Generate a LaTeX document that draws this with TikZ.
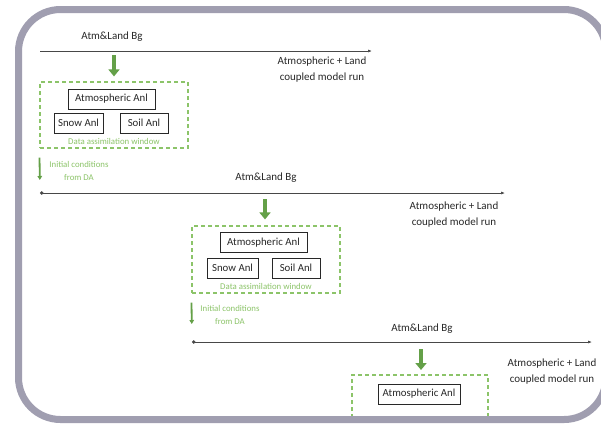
\documentclass[tikz,border=0pt]{standalone}
\usepackage{fontspec}
\setmainfont{Carlito}
\usetikzlibrary{arrows.meta}
\definecolor{framec}{RGB}{160,158,176}
\definecolor{dgreen}{RGB}{100,160,72}
\definecolor{lgreen}{RGB}{140,196,105}
\definecolor{txt}{RGB}{40,40,40}
\begin{document}
\begin{tikzpicture}[x=1pt,y=-1pt,
  anl/.style={draw=txt, line width=0.8pt, fill=white, minimum height=20pt, inner sep=0pt, font=\fontsize{10.8}{12}\selectfont, text=txt},
  lbl/.style={font=\fontsize{11}{16}\selectfont, text=txt, align=center, inner sep=0pt},
  small/.style={font=\fontsize{8.8}{13}\selectfont, text=lgreen, align=center, inner sep=0pt},
  dawin/.style={draw=lgreen, dash pattern=on 4pt off 3pt, line width=1.2pt},
  bigarrow/.style={draw=dgreen, line width=4pt, -{Triangle[length=7pt,width=11pt]}},
  icarrow/.style={draw=dgreen, line width=1.8pt, -{Triangle[length=4pt,width=4.5pt]}},
  tline/.style={draw=txt!85, line width=0.7pt, -{Latex[length=4pt,width=3pt]}},
  tlinedot/.style={draw=txt!85, line width=0.7pt, {Circle[length=3.5pt]}-{Latex[length=4pt,width=3pt]}},
]
\useasboundingbox (0,0) rectangle (601,424);
\fill[white] (0,0) rectangle (601,424);

% ---------- row 1 ----------
\node[lbl] (bg1) at (112,37) {Atm\&Land Bg};
\coordinate (l1s) at (40,51);
\coordinate (l1e) at (372,51);
\draw[tline] (l1s) -- (l1e);
\node[lbl] (run1) at (322,70) {Atmospheric + Land\\coupled model run};
\node[dawin, minimum width=148pt, minimum height=66pt] (da1) at (114,115) {};
\coordinate (t1) at (114,51);
\draw[bigarrow, shorten <=4pt, shorten >=5pt] (t1) -- (da1.north);
\node[anl, minimum width=87pt] (atm1) at (111.5,99) {Atmospheric Anl};
\node[anl, minimum width=49pt] (snow1) at (78.5,123) {Snow Anl};
\node[anl, minimum width=48pt] (soil1) at (144,123) {Soil Anl};
\node[small] (daw1) at (114,141) {Data assimilation window};
\node[small] (ic1) at (79,170.5) {Initial conditions\\from DA};

% ---------- row 2 ----------
\node[lbl] (bg2) at (266,178) {Atm\&Land Bg};
\coordinate (l2s) at (40,193);
\coordinate (l2e) at (505,193);
\draw[tlinedot] (l2s) -- (l2e);
\draw[icarrow, shorten <=9pt, shorten >=13pt] (da1.south west) -- (l2s);
\node[lbl] (run2) at (454,215) {Atmospheric + Land\\coupled model run};
\node[dawin, minimum width=148pt, minimum height=67pt] (da2) at (266,259.5) {};
\coordinate (t2) at (265,193);
\draw[bigarrow, shorten <=6pt, shorten >=6pt] (t2) -- (t2 |- da2.north);
\node[anl, minimum width=87pt] (atm2) at (263.5,242.5) {Atmospheric Anl};
\node[anl, minimum width=51pt] (snow2) at (232.5,268) {Snow Anl};
\node[anl, minimum width=48pt] (soil2) at (296,268) {Soil Anl};
\node[small] (daw2) at (266,286) {Data assimilation window};
\node[small] (ic2) at (230,315) {Initial conditions\\from DA};

% ---------- row 3 ----------
\node[lbl] (bg3) at (422,329) {Atm\&Land Bg};
\coordinate (l3s) at (192,342);
\coordinate (l3e) at (592,342);
\draw[tlinedot] (l3s) -- (l3e);
\draw[icarrow, shorten <=9pt, shorten >=18pt] (da2.south west) -- (l3s);
\node[lbl] (run3) at (552,371.5) {Atmospheric + Land\\coupled model run};
\coordinate (d3a) at (352,418);
\coordinate (d3b) at (352,375);
\coordinate (d3c) at (488,375);
\coordinate (d3d) at (488,418);
\draw[dawin] (d3a) -- (d3b) -- (d3c) -- (d3d);
\coordinate (t3) at (421,342);
\draw[bigarrow, shorten <=7pt, shorten >=5pt] (t3) -- (t3 |- d3b);
\node[anl, minimum width=82pt] (atm3) at (419,394) {Atmospheric Anl};

% ---------- frame ----------
\draw[framec, line width=7pt, rounded corners=42pt] (18.5,9.5) rectangle (606,419.5);
\end{tikzpicture}
\end{document}
